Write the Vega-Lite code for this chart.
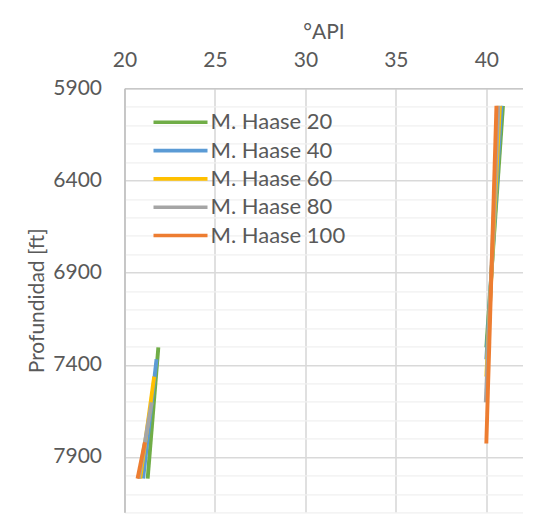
{
  "$schema": "https://vega.github.io/schema/vega-lite/v6.json",
  "width": 398,
  "height": 424,
  "autosize": "none",
  "padding": {"left": 124.5, "top": 88.3, "right": 24.5, "bottom": 18.7},
  "background": "white",
  "config": {
    "font": "Lato",
    "view": {"stroke": null},
    "axis": {"labelColor": "#595959", "titleColor": "#595959", "labelFont": "Lato", "titleFont": "Lato", "labelFontSize": 21, "titleFontSize": 21, "titleFontWeight": "normal", "ticks": false}
  },
  "data": {
    "values": [
      {"serie": "M. Haase 20", "tramo": "alto", "api": 40.92, "prof": 5995},
      {"serie": "M. Haase 20", "tramo": "alto", "api": 40.0, "prof": 7305},
      {"serie": "M. Haase 20", "tramo": "bajo", "api": 21.87, "prof": 7305},
      {"serie": "M. Haase 20", "tramo": "bajo", "api": 21.28, "prof": 8017},
      {"serie": "M. Haase 40", "tramo": "alto", "api": 40.83, "prof": 5995},
      {"serie": "M. Haase 40", "tramo": "alto", "api": 40.0, "prof": 7370},
      {"serie": "M. Haase 40", "tramo": "bajo", "api": 21.77, "prof": 7370},
      {"serie": "M. Haase 40", "tramo": "bajo", "api": 21.03, "prof": 8017},
      {"serie": "M. Haase 60", "tramo": "alto", "api": 40.75, "prof": 5995},
      {"serie": "M. Haase 60", "tramo": "alto", "api": 40.0, "prof": 7464},
      {"serie": "M. Haase 60", "tramo": "bajo", "api": 21.64, "prof": 7464},
      {"serie": "M. Haase 60", "tramo": "bajo", "api": 20.87, "prof": 8017},
      {"serie": "M. Haase 80", "tramo": "alto", "api": 40.67, "prof": 5995},
      {"serie": "M. Haase 80", "tramo": "alto", "api": 39.97, "prof": 7604},
      {"serie": "M. Haase 80", "tramo": "bajo", "api": 21.5, "prof": 7604},
      {"serie": "M. Haase 80", "tramo": "bajo", "api": 20.79, "prof": 8017},
      {"serie": "M. Haase 100", "tramo": "alto", "api": 40.56, "prof": 5995},
      {"serie": "M. Haase 100", "tramo": "alto", "api": 40.0, "prof": 7827},
      {"serie": "M. Haase 100", "tramo": "bajo", "api": 21.13, "prof": 7820},
      {"serie": "M. Haase 100", "tramo": "bajo", "api": 20.72, "prof": 8017}
    ]
  },
  "mark": {"type": "line", "strokeWidth": 3.9, "strokeCap": "butt", "clip": true},
  "encoding": {
    "x": {
      "field": "api", "type": "quantitative",
      "scale": {"domain": [20, 42], "nice": false, "zero": false},
      "axis": {
        "orient": "top", "title": "°API", "values": [20, 25, 30, 35, 40],
        "grid": true, "gridColor": "#d9d9d9", "gridWidth": 1.6,
        "domainColor": "#c8c8c8", "domainWidth": 1.6,
        "labelPadding": 18, "titlePadding": 7, "labelFlush": false
      }
    },
    "y": {
      "field": "prof", "type": "quantitative",
      "scale": {"domain": [5900, 8200], "reverse": true, "nice": false, "zero": false},
      "axis": {
        "title": "Profundidad [ft]",
        "values": [5900, 6000, 6100, 6200, 6300, 6400, 6500, 6600, 6700, 6800, 6900, 7000, 7100, 7200, 7300, 7400, 7500, 7600, 7700, 7800, 7900, 8000, 8100, 8200],
        "labelExpr": "datum.value % 500 === 400 ? datum.label : ''",
        "format": "d",
        "grid": true,
        "gridColor": {"condition": {"test": "datum.value % 500 === 400", "value": "#d9d9d9"}, "value": "#f0f0f0"},
        "gridWidth": {"condition": {"test": "datum.value % 500 === 400", "value": 1.6}, "value": 1.3},
        "domainColor": "#c0c0c0", "domainWidth": 1.6,
        "labelPadding": 23, "titlePadding": 5, "labelFlush": false
      }
    },
    "color": {
      "field": "serie", "type": "nominal",
      "scale": {
        "domain": ["M. Haase 20", "M. Haase 40", "M. Haase 60", "M. Haase 80", "M. Haase 100"],
        "range": ["#70AD47", "#5B9BD5", "#FFC000", "#A5A5A5", "#ED7D31"]
      },
      "legend": {
        "title": null,
        "orient": "none",
        "legendX": 44,
        "legendY": 22,
        "padding": 0,
        "symbolType": "M-2.7,0L2.7,0",
        "symbolSize": 400,
        "symbolStrokeWidth": 3.6,
        "labelFont": "Lato",
        "labelFontSize": 22,
        "labelColor": "#595959",
        "labelOffset": 18,
        "rowPadding": 5.3,
        "labelLimit": 300
      }
    },
    "detail": {"field": "tramo", "type": "nominal"}
  }
}
